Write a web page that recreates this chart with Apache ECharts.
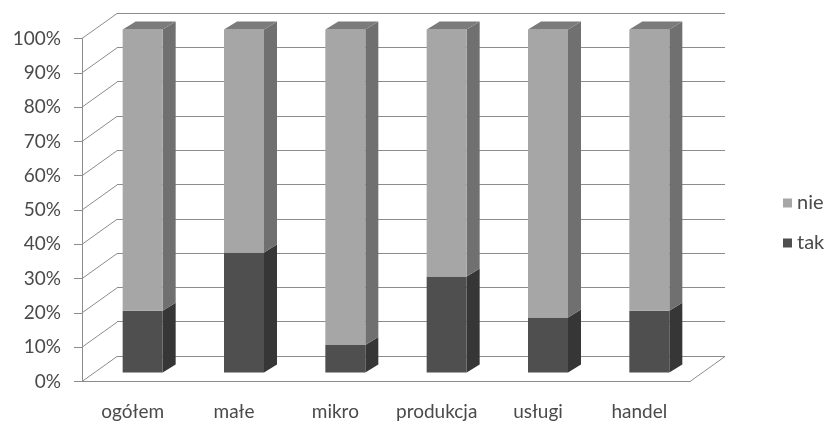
<!DOCTYPE html>
<html>
<head>
<meta charset="utf-8">
<script src="https://cdn.jsdelivr.net/npm/echarts@6/dist/echarts.min.js"></script>
<style>
  html, body { margin: 0; padding: 0; background: #fff; }
  #chart { width: 828px; height: 428px; }
</style>
</head>
<body>
<div id="chart"></div>
<script>
const categories = ['ogółem', 'małe', 'mikro', 'produkcja', 'usługi', 'handel']
const takValues = [18, 35, 8, 28, 16, 18]
const nieValues = [82, 65, 92, 72, 84, 82]
const yTicks = [0, 10, 20, 30, 40, 50, 60, 70, 80, 90, 100]

// pseudo 3D geometry (pixels)
const WALL_DX = 35
const WALL_DY = -25
const BAR_SHIFT_X = 10
const BAR_SHIFT_Y = -9
const BAR_W = 40
const BAR_DX = 13
const BAR_DY = -8

const colors = {
  nie: { front: '#a6a6a6', side: '#707070', top: '#7b7b7b' },
  tak: { front: '#4f4f4f', side: '#363636', top: '#3e3e3e' }
}
const lineColor = '#8c8c8c'
const textColor = '#4a4a4a'

const chart = echarts.init(document.getElementById('chart'))

const renderBar = (name) => (params, api) => {
  const cat = api.value(0)
  const start = api.value(1)
  const end = api.value(2)
  const isTop = api.value(3)
  const p0 = api.coord([cat, start])
  const p1 = api.coord([cat, end])
  const x = p0[0] + BAR_SHIFT_X - BAR_W / 2
  const x2 = x + BAR_W
  const yb = p0[1] + BAR_SHIFT_Y
  const yt = p1[1] + BAR_SHIFT_Y
  const c = colors[name]
  const children = [
    {
      type: 'polygon',
      shape: { points: [[x2, yb], [x2 + BAR_DX, yb + BAR_DY], [x2 + BAR_DX, yt + BAR_DY], [x2, yt]] },
      style: { fill: c.side }
    },
    {
      type: 'rect',
      shape: { x: x, y: yt, width: BAR_W, height: yb - yt },
      style: { fill: c.front }
    }
  ]
  if (isTop) {
    children.push({
      type: 'polygon',
      shape: { points: [[x, yt], [x + BAR_DX, yt + BAR_DY], [x2 + BAR_DX, yt + BAR_DY], [x2, yt]] },
      style: { fill: c.top }
    })
  }
  return { type: 'group', children }
}

const takData = categories.map((c, i) => [i, 0, takValues[i], 0])
const nieData = categories.map((c, i) => [i, takValues[i], takValues[i] + nieValues[i], 1])

const option = {
  animation: false,
  textStyle: { fontFamily: 'Lato', color: textColor },
  legend: {
    data: ['nie', 'tak'],
    orient: 'vertical',
    left: 778,
    top: 188,
    itemWidth: 9,
    itemHeight: 9,
    itemGap: 20,
    icon: 'rect',
    textStyle: { fontFamily: 'Lato', fontSize: 20, color: textColor }
  },
  grid: [
    { left: 117, right: 103, top: 13, bottom: 72 },
    { left: 82, right: 138, top: 38.5, bottom: 46.5 }
  ],
  xAxis: [
    { gridIndex: 0, type: 'category', data: categories, show: false },
    {
      gridIndex: 1,
      type: 'category',
      data: categories,
      axisLine: { lineStyle: { color: lineColor } },
      axisTick: { length: 6, lineStyle: { color: lineColor } },
      axisLabel: { interval: 0, fontSize: 19, color: textColor, margin: 21 }
    }
  ],
  yAxis: [
    {
      gridIndex: 0,
      type: 'value',
      min: 0,
      max: 100,
      interval: 10,
      axisLabel: { show: false },
      axisLine: { show: false },
      axisTick: { show: false },
      splitLine: { lineStyle: { color: lineColor } }
    },
    {
      gridIndex: 1,
      type: 'value',
      min: 0,
      max: 100,
      interval: 10,
      splitLine: { show: false },
      axisLine: { show: true, lineStyle: { color: lineColor } },
      axisTick: { show: true, length: 8, lineStyle: { color: lineColor } },
      axisLabel: { formatter: '{value}%', fontSize: 19, color: textColor, margin: 21 }
    }
  ],
  series: [
    {
      // diagonal lines from front axis to back wall
      type: 'custom',
      xAxisIndex: 1,
      yAxisIndex: 1,
      silent: true,
      data: yTicks.map(v => [0, v]),
      renderItem: (params, api) => {
        const y = api.coord([0, api.value(1)])[1]
        const x = params.coordSys.x
        return {
          type: 'line',
          shape: { x1: x, y1: y, x2: x + WALL_DX, y2: y + WALL_DY },
          style: { stroke: lineColor, lineWidth: 1 }
        }
      }
    },
    {
      // right edge of the floor
      type: 'custom',
      xAxisIndex: 1,
      yAxisIndex: 1,
      silent: true,
      data: [[0, 0]],
      renderItem: (params, api) => {
        const y = api.coord([0, 0])[1]
        const x = params.coordSys.x + params.coordSys.width
        return {
          type: 'line',
          shape: { x1: x, y1: y, x2: x + WALL_DX, y2: y + WALL_DY },
          style: { stroke: lineColor, lineWidth: 1 }
        }
      }
    },
    {
      name: 'tak',
      type: 'custom',
      xAxisIndex: 1,
      yAxisIndex: 1,
      itemStyle: { color: colors.tak.front },
      data: takData,
      renderItem: renderBar('tak'),
      z: 3
    },
    {
      name: 'nie',
      type: 'custom',
      xAxisIndex: 1,
      yAxisIndex: 1,
      itemStyle: { color: colors.nie.front },
      data: nieData,
      renderItem: renderBar('nie'),
      z: 3
    }
  ]
}

chart.setOption(option)
</script>
</body>
</html>
